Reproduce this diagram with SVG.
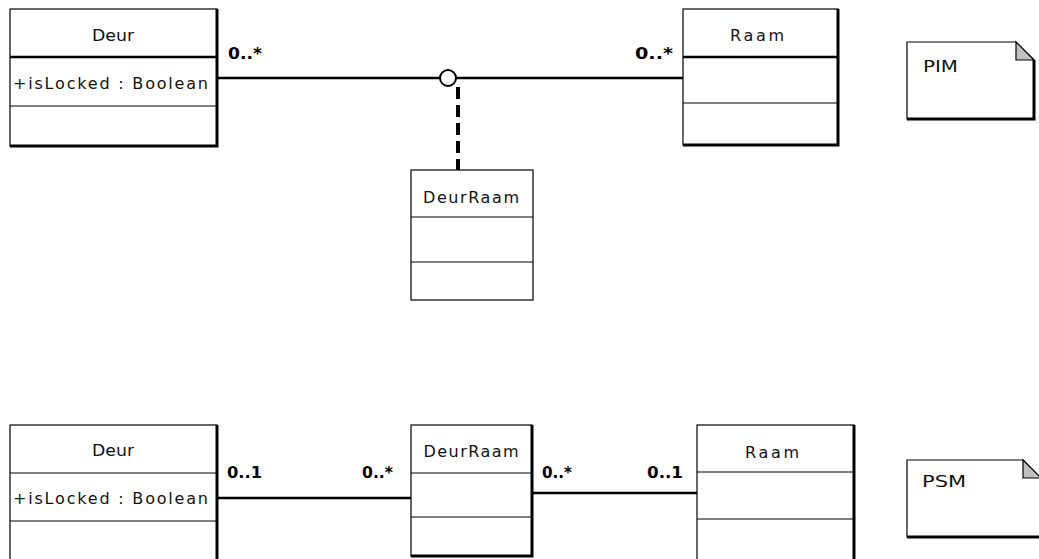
<svg xmlns="http://www.w3.org/2000/svg" width="1039" height="559" viewBox="0 0 1039 559">
<style>
.box{fill:#fff;stroke:#000;stroke-width:1.2}
.sh{fill:none;stroke:#000;stroke-width:3}
.dv{stroke:#000;stroke-width:1.2}
.dvt{stroke:#000;stroke-width:2.5}
.t{font-family:"DejaVu Sans","Liberation Sans",sans-serif;font-size:16px;fill:#111}
.lb{font-family:"DejaVu Sans","Liberation Sans",sans-serif;font-size:16px;font-weight:bold;fill:#000}
.c{fill:none;stroke:#000;stroke-width:2.5}
.fold{fill:#c0c0c0;stroke:#000;stroke-width:1.2}
</style>
<rect width="1039" height="559" fill="#fff"/>
<g id="connectors">
<line class="c" x1="218" y1="78" x2="440" y2="78"/>
<line class="c" x1="456" y1="78" x2="683" y2="78"/>
<circle cx="448" cy="78" r="8" fill="#fff" stroke="#000" stroke-width="2"/>
<line x1="458" y1="87" x2="458" y2="170" stroke="#000" stroke-width="4" stroke-dasharray="12,6"/>
<line class="c" x1="218" y1="498" x2="411" y2="498"/>
<line class="c" x1="533" y1="493" x2="697" y2="493"/>
<text class="lb" x="228" y="59" textLength="34" lengthAdjust="spacingAndGlyphs">0..*</text>
<text class="lb" x="635" y="59" textLength="38" lengthAdjust="spacingAndGlyphs">0..*</text>
<text class="lb" x="227" y="478" textLength="35" lengthAdjust="spacingAndGlyphs">0..1</text>
<text class="lb" x="362" y="478" textLength="31" lengthAdjust="spacingAndGlyphs">0..*</text>
<text class="lb" x="542" y="478" textLength="30" lengthAdjust="spacingAndGlyphs">0..*</text>
<text class="lb" x="647" y="478" textLength="36" lengthAdjust="spacingAndGlyphs">0..1</text>
</g>
<g id="deur-pim">
<rect class="box" x="10" y="9" width="207" height="137"/>
<polyline class="sh" points="217,9 217,146 10,146"/>
<line class="dvt" x1="10" y1="57" x2="217" y2="57"/>
<line class="dv" x1="10" y1="106" x2="217" y2="106"/>
<text class="t" x="113" y="41" text-anchor="middle" textLength="42" lengthAdjust="spacingAndGlyphs">Deur</text>
<text class="t" x="13" y="89" textLength="195" lengthAdjust="spacing">+isLocked : Boolean</text>
</g>
<g id="raam-pim">
<rect class="box" x="683" y="9" width="155" height="136"/>
<polyline class="sh" points="838,9 838,145 683,145"/>
<line class="dvt" x1="683" y1="57" x2="838" y2="57"/>
<line class="dv" x1="683" y1="103" x2="838" y2="103"/>
<text class="t" x="757" y="41" text-anchor="middle" textLength="54" lengthAdjust="spacing">Raam</text>
</g>
<g id="deurraam-pim">
<rect class="box" x="411" y="170" width="122" height="130"/>
<line class="dv" x1="411" y1="217" x2="533" y2="217"/>
<line class="dv" x1="411" y1="262" x2="533" y2="262"/>
<text class="t" x="471" y="203" text-anchor="middle" textLength="96" lengthAdjust="spacing">DeurRaam</text>
</g>
<g id="note-pim">
<path class="box" d="M907,42 H1016 L1034,60 V119 H907 Z"/>
<path class="fold" d="M1016,42 V60 H1034 Z"/>
<polyline class="sh" points="1034,60 1034,119 907,119"/>
<text class="t" x="923" y="72" textLength="35" lengthAdjust="spacingAndGlyphs">PIM</text>
</g>
<g id="deur-psm">
<rect class="box" x="10" y="425" width="207" height="150"/>
<polyline class="sh" points="217,425 217,575"/>
<line class="dv" x1="10" y1="473" x2="217" y2="473"/>
<line class="dv" x1="10" y1="521" x2="217" y2="521"/>
<text class="t" x="113" y="456" text-anchor="middle" textLength="42" lengthAdjust="spacingAndGlyphs">Deur</text>
<text class="t" x="13" y="504" textLength="195" lengthAdjust="spacing">+isLocked : Boolean</text>
</g>
<g id="deurraam-psm">
<rect class="box" x="411" y="425" width="121" height="131"/>
<polyline class="sh" points="532,425 532,556 411,556"/>
<line class="dv" x1="411" y1="473" x2="532" y2="473"/>
<line class="dv" x1="411" y1="517" x2="532" y2="517"/>
<text class="t" x="471" y="457" text-anchor="middle" textLength="95" lengthAdjust="spacing">DeurRaam</text>
</g>
<g id="raam-psm">
<rect class="box" x="697" y="425" width="157" height="150"/>
<polyline class="sh" points="854,425 854,575"/>
<line class="dv" x1="697" y1="472" x2="854" y2="472"/>
<line class="dv" x1="697" y1="519" x2="854" y2="519"/>
<text class="t" x="772" y="458" text-anchor="middle" textLength="54" lengthAdjust="spacing">Raam</text>
</g>
<g id="note-psm">
<path class="box" d="M907,460 H1023 L1041,478 V537 H907 Z"/>
<path class="fold" d="M1023,460 V478 H1041 Z"/>
<polyline class="sh" points="1041,478 1041,537 907,537"/>
<text class="t" x="922" y="487" textLength="44" lengthAdjust="spacingAndGlyphs">PSM</text>
</g>
</svg>
